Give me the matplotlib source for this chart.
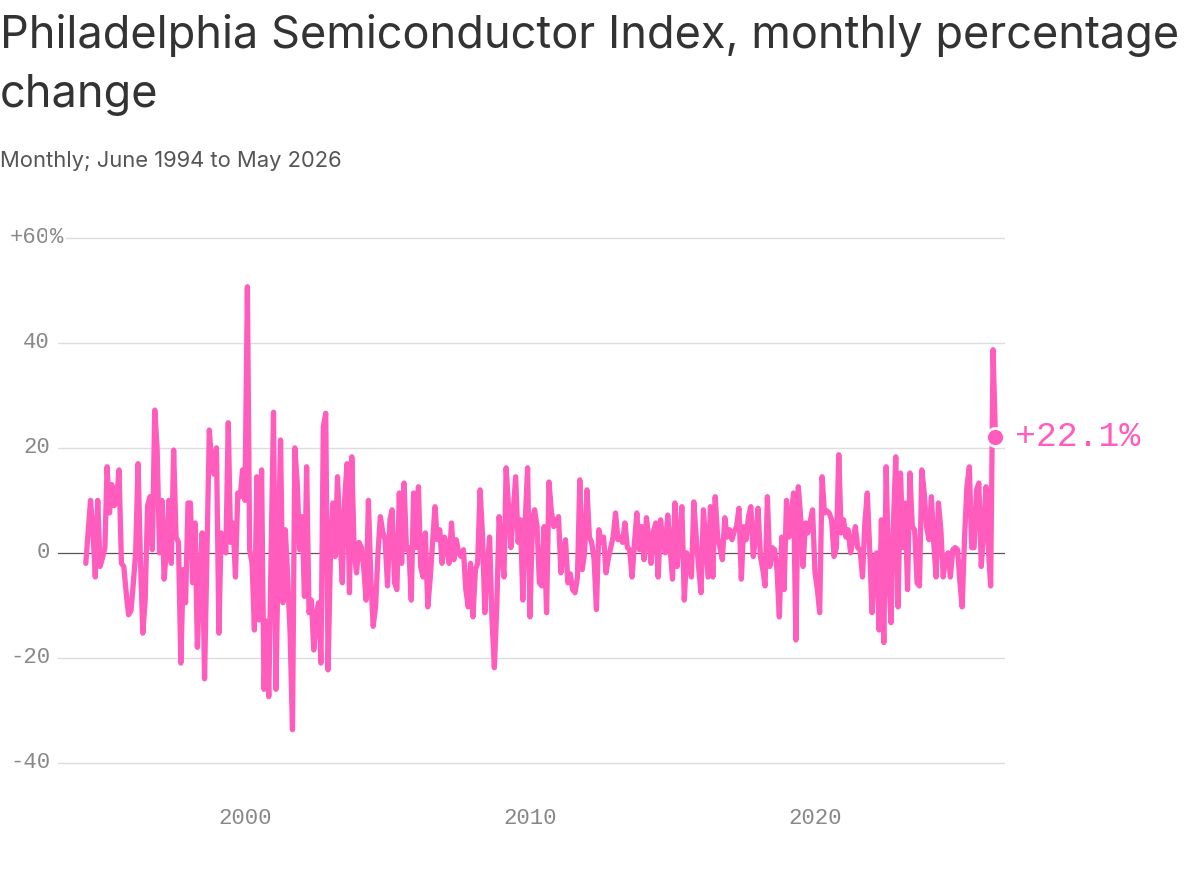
import matplotlib
matplotlib.use("Agg")
import matplotlib.pyplot as plt
import matplotlib.dates as mdates
import pandas as pd
from matplotlib.transforms import blended_transform_factory

# Monthly % change, June 1994 .. May 2026
values = [
    -2, 4, 10, 4, -4.6, 10, -2.6, -1, 1, 16.4,
    7.6, 13, 9, 10, 15.8, -2, -2.6, -7.6, -11.8, -11,
    -5.7, 0, 17, -1.3, -15.3, -9, 9, 10.7, 0.6, 27.2,
    20, 0, 10, -5, 1, 10, -2, 19.6, 3, 2,
    -21, -3.2, -9.5, 9.5, 9.5, -5.7, 5.7, -18, -5, 3.8,
    -24, 0, 23.4, 17, 15, 20, -15.3, 3.8, 2, 0,
    24.8, 2, 5.7, -4.6, 11.4, 10.7, 15.8, 10, 50.7, 0.6,
    -2, -14.7, 14.5, -12.8, 15.8, -26, -13, -27.4, 0, 26.8,
    -26, -0.7, 21.5, -9.5, 4.4, -4.6, -15, -33.7, 20, 13.3,
    0.6, 6.9, -8.3, 16.4, -11.4, -9, -18.5, -12, -9.5, -21,
    24, 26.6, -22.3, 0, 9.5, -0.7, 14.5, 4, -5.7, 10,
    17, -7.6, 18.3, 0, -3.8, 2, 1, -2.6, -9, 10,
    -5, -14, -10.3, 0, 6.9, 4, 2.5, -6.3, 6.3, 8.2,
    -5.7, -7, 11.4, -2, 13.3, 0.6, 1, -9, 11.4, 1,
    12.6, -2.6, -4.6, 3.8, -10.3, -5, 2, 8.8, 2.5, 4.4,
    -2, 3, 1, -2, 5.7, -1.3, 2.5, 0, -0.7, 0.6,
    -7, -10.3, -2, -12.2, -3.2, -2, 12, 3.8, -11.4, -3,
    3, -12.8, -21.9, -10.3, 6.9, 1, -4.6, 16.2, 8.8, 1,
    8, 14.5, 2, 6.3, -9, 6.3, 16.2, -12.2, 6.3, 8.2,
    5, -5.7, -6.3, 5, -11.4, 13.5, 8, 5, 5.7, 6.9,
    -3.8, 0, 2.5, -5.7, -4, -7, -7.6, -4.6, 13.9, -3.2,
    0, 12, 3, 2, -1.3, -10.8, 4.4, 2, 3, -3.8,
    -1, 1, 3, 7.6, 2.5, 3, 2, 5.7, 1, 0.6,
    -4.6, 2, 7.6, 0.6, 5, -1.3, 6.7, 3, -2, 4,
    5.7, -4.6, 6.3, 2, 0, 7.2, 1, -5, 9.5, -2.6,
    3, 8.8, -9, 0, -2, -4.6, 9.7, 3, -2.6, -7.6,
    8.2, 2, -4.6, 8.8, -4.6, 10.7, 3, 1, -1.3, 6.7,
    3, 4.4, 2.5, 4, 5, 8.5, -5, 5, 2.5, 6.9,
    8.8, -0.7, 3, 8.5, -0.7, -3, -6.3, 10.7, -2.6, 1,
    0.6, -3.2, -12.2, 3, -7, 10, 3, 7, 11.4, -16.6,
    12.6, 6.9, -2.6, 5.7, 3.8, 6, 8.2, -3.8, -7, -11.4,
    14.5, 7.6, 8, 7.6, 6.3, -0.7, 1, 18.7, 3.8, 6.3,
    3, 4.4, 0, 2.5, 5, 1, 0.6, -4.6, 5.7, 11.4,
    1, -11.4, -0.7, 0, -14.7, 6.3, -17.1, 16.4, -3.2, -13.3,
    5, 18.3, -10.3, 15.2, 1, 9.5, -7, 15.2, 5, 4.4,
    -5.7, -6.3, 15.8, 11.4, 5, 2.5, 10.7, 2, -4.6, 9.5,
    4.4, -4.6, -0.7, 0, -4.6, 0.6, 1, 0.6, -5.7, -10.3,
    3, 12.6, 16.4, 1, 1, 12, 13.3, -2.6, 4.4, 12.6,
    0.6, -6.3, 38.7, 22.1,
]
dates = pd.date_range("1994-06-01", periods=len(values), freq="MS")

y_ticks = [-40, -20, 0, 20, 40, 60]
y_tick_labels = ["-40", "-20", "0", "20", "40", "+60"]
x_tick_years = [2000, 2010, 2020]

title_line1 = "Philadelphia Semiconductor Index, monthly percentage"
title_line2 = "change"
subtitle = "Monthly; June 1994 to May 2026"
end_label = "+22.1%"

PINK = "#ff5cbd"
W, H = 1200, 872
fig = plt.figure(figsize=(W / 100, H / 100), dpi=100)
fig.patch.set_facecolor("white")

ax = fig.add_axes([58 / W, 1 - 789 / H, (1005 - 58) / W, (789 - 227.5) / H])
ax.set_ylim(-45, 62)
ax.set_xlim(pd.Timestamp("1993-06-10"), pd.Timestamp("2026-09-01"))

for s in ax.spines.values():
    s.set_visible(False)
ax.set_yticks([])
for yv in y_ticks:
    if yv == 0:
        ax.axhline(0, color="#555555", lw=0.9, zorder=2)
    else:
        ax.axhline(yv, color="#dddddd", lw=1.0, zorder=1)

mono = ["Liberation Mono", "DejaVu Sans Mono"]
tr = blended_transform_factory(fig.transFigure, ax.transData)
for yv, lab in zip(y_ticks, y_tick_labels):
    ax.text(50 / W, yv, lab, transform=tr, ha="right", va="center",
            fontsize=16, color="#888888", family=mono)
    if lab.startswith("+"):
        ax.text(50 / W, yv, "%", transform=tr, ha="left", va="center",
                fontsize=16, color="#888888", family=mono,
                bbox=dict(facecolor="white", edgecolor="none", pad=2))

ax.set_xticks([pd.Timestamp(f"{y}-01-01") for y in x_tick_years])
ax.xaxis.set_major_formatter(mdates.DateFormatter("%Y"))
ax.tick_params(axis="x", length=0, pad=14, labelsize=16, labelcolor="#888888")
for t in ax.get_xticklabels():
    t.set_family(mono)

ax.plot(dates, values, color=PINK, lw=3.8, solid_joinstyle="round",
        solid_capstyle="round", zorder=3)
ax.plot(dates[-1], values[-1], "o", ms=13, color=PINK, mec="white", mew=2, zorder=4)
ax.annotate(end_label, (dates[-1], values[-1]), xytext=(14, 0),
            textcoords="offset points", va="center", ha="left",
            fontsize=25, color=PINK, family=mono)

sans = ["Inter", "DejaVu Sans"]
fig.text(0, 1 - 48 / H, title_line1, ha="left", va="baseline",
         fontsize=32.5, color="#333333", family=sans)
fig.text(0, 1 - 107 / H, title_line2, ha="left", va="baseline",
         fontsize=32.5, color="#333333", family=sans)
fig.text(0, 1 - 167 / H, subtitle, ha="left", va="baseline",
         fontsize=15.8, color="#555555", family=sans)

fig.savefig("out.png", dpi=100, facecolor="white")
